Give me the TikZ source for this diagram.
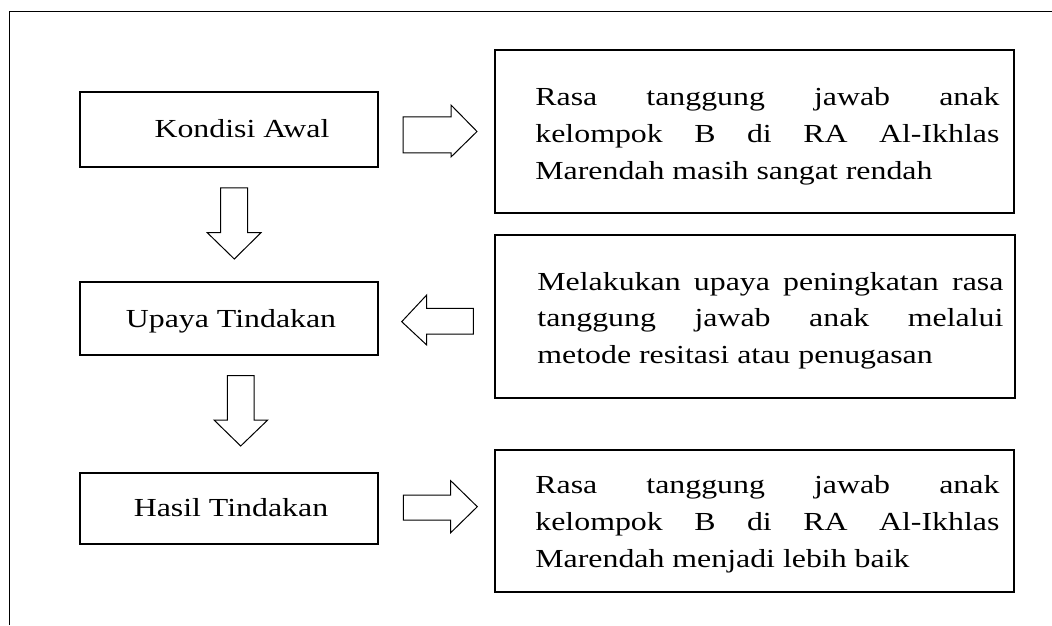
\documentclass[tikz,border=0pt]{standalone}
\usepackage{fontspec}
\setmainfont{Liberation Serif}[FakeStretch=1.225]
\begin{document}
\begin{tikzpicture}[x=0.5pt,y=-0.5pt,
  frame/.style={line width=0.75pt},
  leftbox/.style={draw, line width=0.55pt, rectangle, minimum width=149pt, inner sep=0pt},
  rightbox/.style={draw, line width=0.55pt, rectangle, minimum width=259.5pt, inner sep=0pt},
  blockarrow/.style={draw, line width=0.5pt, line join=miter, fill=white},
  boxtext/.style={inner sep=0pt, anchor=base, font=\fontsize{13pt}{15pt}\selectfont},
  linetext/.style={inner sep=0pt, anchor=base west, font=\fontsize{13pt}{15pt}\selectfont}]
\useasboundingbox (0,0) rectangle (1052,625);
% outer frame (top and left visible)
\draw[frame] (9.7,625) -- (9.7,11.3) -- (1052,11.3);
% left boxes
\node[leftbox, minimum height=37.5pt] (kondisi) at (229,129.5) {};
\node[boxtext] (kondisiT) at (242,138) {Kondisi Awal};
\node[leftbox, minimum height=36.5pt] (upaya) at (229,318.5) {};
\node[boxtext] (upayaT) at (231,327) {Upaya Tindakan};
\node[leftbox, minimum height=35.5pt] (hasil) at (229,508.5) {};
\node[boxtext] (hasilT) at (231,516) {Hasil Tindakan};
% right boxes
\node[rightbox, minimum height=81.5pt] (r1) at (754.5,131.5) {};
\node[rightbox, minimum width=260pt, minimum height=81.5pt] (r2) at (755,316.5) {};
\node[rightbox, minimum height=71pt] (r3) at (754.5,521) {};
% right box 1 text
\node[linetext] (r1a) at (535,106) {\makebox[232pt][s]{Rasa tanggung jawab anak}};
\node[linetext] (r1b) at (535,143) {\makebox[232pt][s]{kelompok B di RA Al-Ikhlas}};
\node[linetext] (r1c) at (535,180) {Marendah masih sangat rendah};
% right box 2 text
\node[linetext] (r2a) at (537,290) {\makebox[233pt][s]{Melakukan upaya peningkatan rasa}};
\node[linetext] (r2b) at (537,326.5) {\makebox[233pt][s]{tanggung jawab anak melalui}};
\node[linetext] (r2c) at (537,363) {metode resitasi atau penugasan};
% right box 3 text
\node[linetext] (r3a) at (535,493) {\makebox[232pt][s]{Rasa tanggung jawab anak}};
\node[linetext] (r3b) at (535,530) {\makebox[232pt][s]{kelompok B di RA Al-Ikhlas}};
\node[linetext] (r3c) at (535,567) {Marendah menjadi lebih baik};
% block arrows
\draw[blockarrow] (403,117) -- (451,117) -- (451,105) -- (477,131.5) -- (451,157) -- (451,153) -- (403,153) -- cycle;
\draw[blockarrow] (220.7,188) -- (247.7,188) -- (247.7,232.7) -- (261,232.7) -- (234.3,259) -- (207.3,232.7) -- (220.7,232.7) -- cycle;
\draw[blockarrow] (473.3,308.3) -- (426.7,308.3) -- (426.7,295) -- (401.7,321.7) -- (426.7,345) -- (426.7,334) -- (473.3,334) -- cycle;
\draw[blockarrow] (227.3,375.7) -- (254,375.7) -- (254,420) -- (267.7,420) -- (240.7,446) -- (214,420) -- (227.3,420) -- cycle;
\draw[blockarrow] (403.3,495) -- (450.7,495) -- (450.7,480.7) -- (477.3,506.7) -- (450.7,532.7) -- (450.7,520) -- (403.3,520) -- cycle;
\end{tikzpicture}
\end{document}
